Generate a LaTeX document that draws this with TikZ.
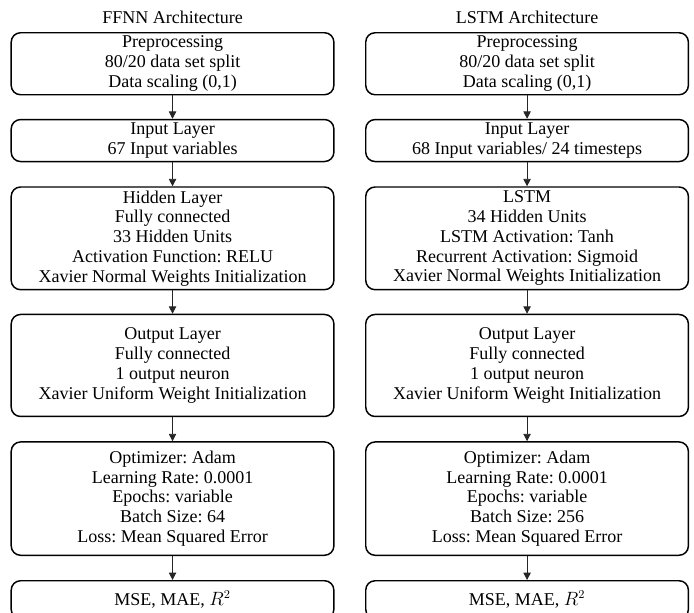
\documentclass[tikz,border=0pt]{standalone}
\usepackage{amsmath}
\usepackage{fontspec}
\setmainfont{Liberation Serif}
\usepackage{tikz}
\usetikzlibrary{arrows.meta, positioning}
\frenchspacing
\tikzset{
  stage/.style={
    rectangle, rounded corners=7pt, draw=black, line width=1.1pt,
    fill=white, minimum width=242pt, inner sep=2pt,
    align=center, font=\fontsize{13.5}{14.85}\selectfont
  },
  heading/.style={font=\fontsize{13.5}{14}\selectfont, inner sep=0pt},
  arrow/.style={-{Triangle[length=5.5pt,width=5.5pt]}, line width=0.6pt, draw=black!85}
}

\begin{document}
\begin{tikzpicture}[node distance=17.5pt]
  \useasboundingbox (0,0) rectangle (520.5pt,-459pt);

  % FFNN column
  \node[stage, minimum height=46.5pt, anchor=north] (ffpre) at (129.4pt,-24pt)
    {Preprocessing\\80/20 data set split\\Data scaling (0,1)};
  \node[heading, above=6pt of ffpre] (fftitle) {FFNN Architecture};
  \node[stage, minimum height=31.5pt, below=of ffpre] (ffin)
    {Input Layer\\67 Input variables};
  \node[stage, minimum height=77pt, below=18pt of ffin] (ffhid)
    {Hidden Layer\\Fully connected\\33 Hidden Units\\Activation Function: RELU\\Xavier Normal Weights Initialization};
  \node[stage, minimum height=76.5pt, below=of ffhid] (ffout)
    {Output Layer\\Fully connected\\1 output neuron\\Xavier Uniform Weight Initialization};
  \node[stage, minimum height=85pt, below=18pt of ffout] (ffopt)
    {Optimizer: Adam\\Learning Rate: 0.0001\\Epochs: variable\\Batch Size: 64\\Loss: Mean Squared Error};
  \node[stage, minimum height=28.5pt, below=18pt of ffopt] (ffmet)
    {MSE, MAE, $R^{2}$};

  % LSTM column
  \node[stage, minimum height=46.5pt, anchor=north] (lspre) at (395.3pt,-24pt)
    {Preprocessing\\80/20 data set split\\Data scaling (0,1)};
  \node[heading, above=6pt of lspre] (lstitle) {LSTM Architecture};
  \node[stage, minimum height=31.5pt, below=of lspre] (lsin)
    {Input Layer\\68 Input variables/ 24 timesteps};
  \node[stage, minimum height=77pt, below=18pt of lsin] (lshid)
    {LSTM\\34 Hidden Units\\LSTM Activation: Tanh\\Recurrent Activation: Sigmoid\\Xavier Normal Weights Initialization};
  \node[stage, minimum height=76.5pt, below=of lshid] (lsout)
    {Output Layer\\Fully connected\\1 output neuron\\Xavier Uniform Weight Initialization};
  \node[stage, minimum height=85pt, below=18pt of lsout] (lsopt)
    {Optimizer: Adam\\Learning Rate: 0.0001\\Epochs: variable\\Batch Size: 256\\Loss: Mean Squared Error};
  \node[stage, minimum height=28.5pt, below=18pt of lsopt] (lsmet)
    {MSE, MAE, $R^{2}$};

  \draw[arrow] (ffpre) -- (ffin);
  \draw[arrow] (ffin) -- (ffhid);
  \draw[arrow] (ffhid) -- (ffout);
  \draw[arrow] (ffout) -- (ffopt);
  \draw[arrow] (ffopt) -- (ffmet);

  \draw[arrow] (lspre) -- (lsin);
  \draw[arrow] (lsin) -- (lshid);
  \draw[arrow] (lshid) -- (lsout);
  \draw[arrow] (lsout) -- (lsopt);
  \draw[arrow] (lsopt) -- (lsmet);
\end{tikzpicture}
\end{document}
